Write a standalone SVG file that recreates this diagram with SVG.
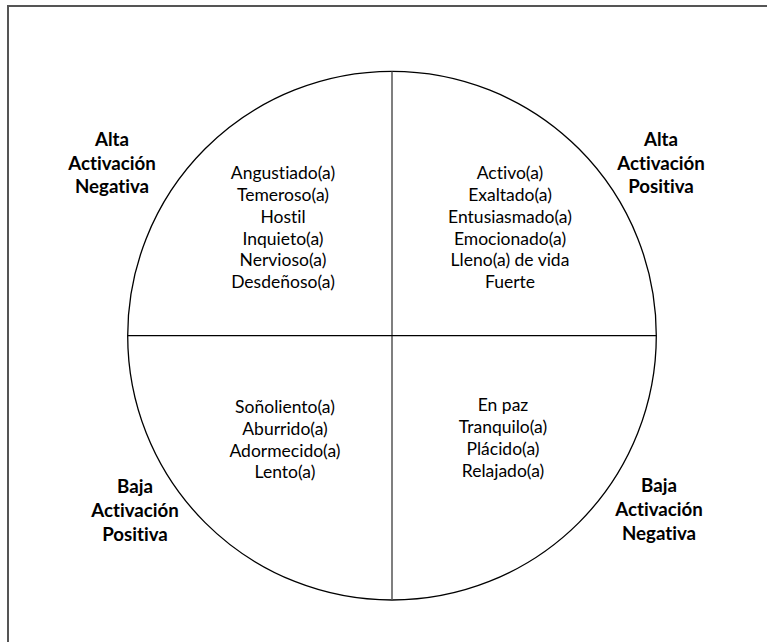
<svg xmlns="http://www.w3.org/2000/svg" width="767" height="642" viewBox="0 0 767 642">
  <style>
    .frame { stroke: #555; stroke-width: 2; fill: none; }
    .ring { stroke: #000; stroke-width: 1.3; fill: none; }
    .axis-v { stroke: #555; stroke-width: 1.5; }
    .axis-h { stroke: #000; stroke-width: 1.2; }
    text { font-family: Lato, "Liberation Sans", sans-serif; fill: #000; text-anchor: middle; font-variant-ligatures: none; font-feature-settings: "liga" 0, "clig" 0; }
    .item { font-size: 17.5px; }
    .head { font-size: 18.7px; font-weight: bold; }
  </style>

  <rect width="767" height="642" fill="#fff"/>

  <!-- outer frame (top and left edges) -->
  <g id="frame">
    <line class="frame" x1="7" y1="6" x2="767" y2="6"/>
    <line class="frame" x1="8" y1="6" x2="8" y2="642"/>
  </g>

  <!-- circle and quadrant axes -->
  <g id="connectors">
    <circle class="ring" cx="392" cy="335.7" r="264.3"/>
    <line class="axis-v" x1="392" y1="71.4" x2="392" y2="600"/>
    <line class="axis-h" x1="127.7" y1="335.7" x2="656.3" y2="335.7"/>
  </g>

  <g id="q-high-negative">
    <text class="item" x="283" y="179">Angustiado(a)</text>
    <text class="item" x="283" y="201">Temeroso(a)</text>
    <text class="item" x="283" y="223">Hostil</text>
    <text class="item" x="283" y="245">Inquieto(a)</text>
    <text class="item" x="283" y="266">Nervioso(a)</text>
    <text class="item" x="283" y="288">Desdeñoso(a)</text>
  </g>

  <g id="q-high-positive">
    <text class="item" x="510" y="179">Activo(a)</text>
    <text class="item" x="510" y="201">Exaltado(a)</text>
    <text class="item" x="510" y="223">Entusiasmado(a)</text>
    <text class="item" x="510" y="245">Emocionado(a)</text>
    <text class="item" x="510" y="266">Lleno(a) de vida</text>
    <text class="item" x="510" y="288">Fuerte</text>
  </g>

  <g id="q-low-positive">
    <text class="item" x="285" y="413">Soñoliento(a)</text>
    <text class="item" x="285" y="435">Aburrido(a)</text>
    <text class="item" x="285" y="457">Adormecido(a)</text>
    <text class="item" x="285" y="478">Lento(a)</text>
  </g>

  <g id="q-low-negative">
    <text class="item" x="503" y="411">En paz</text>
    <text class="item" x="503" y="433">Tranquilo(a)</text>
    <text class="item" x="503" y="455">Plácido(a)</text>
    <text class="item" x="503" y="477">Relajado(a)</text>
  </g>

  <g id="label-high-negative">
    <text class="head" x="112" y="146">Alta</text>
    <text class="head" x="112" y="170">Activación</text>
    <text class="head" x="112" y="193">Negativa</text>
  </g>

  <g id="label-high-positive">
    <text class="head" x="661" y="146">Alta</text>
    <text class="head" x="661" y="170">Activación</text>
    <text class="head" x="661" y="193">Positiva</text>
  </g>

  <g id="label-low-positive">
    <text class="head" x="135" y="493">Baja</text>
    <text class="head" x="135" y="517">Activación</text>
    <text class="head" x="135" y="541">Positiva</text>
  </g>

  <g id="label-low-negative">
    <text class="head" x="659" y="492">Baja</text>
    <text class="head" x="659" y="516">Activación</text>
    <text class="head" x="659" y="540">Negativa</text>
  </g>
</svg>
